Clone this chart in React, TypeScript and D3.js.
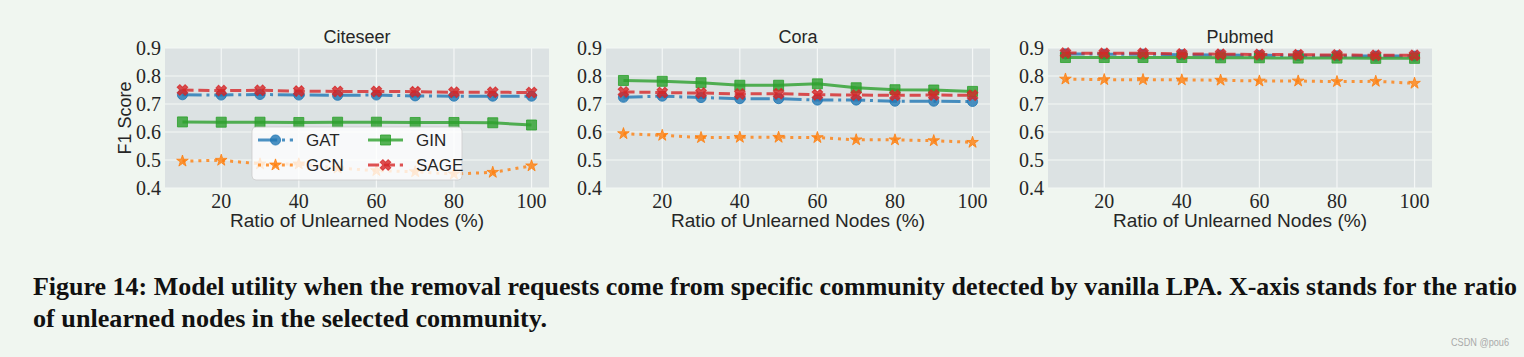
import React from 'react';
import * as d3 from 'd3';

const ratios = [10, 20, 30, 40, 50, 60, 70, 80, 90, 100];
const xTicks = [20, 40, 60, 80, 100];
const yTicks = [0.4, 0.5, 0.6, 0.7, 0.8, 0.9];
const datasetNames = ['Citeseer', 'Cora', 'Pubmed'];
const modelNames = ['GAT', 'GCN', 'GIN', 'SAGE'];

const citeseerGAT = [0.733, 0.732, 0.734, 0.732, 0.731, 0.732, 0.729, 0.728, 0.728, 0.728];
const citeseerGCN = [0.496, 0.499, 0.486, 0.486, 0.471, 0.462, 0.458, 0.450, 0.456, 0.479];
const citeseerGIN = [0.636, 0.635, 0.635, 0.634, 0.635, 0.635, 0.634, 0.634, 0.633, 0.625];
const citeseerSAGE = [0.750, 0.748, 0.749, 0.746, 0.745, 0.745, 0.744, 0.742, 0.742, 0.741];

const coraGAT = [0.724, 0.728, 0.723, 0.719, 0.719, 0.714, 0.714, 0.710, 0.710, 0.709];
const coraGCN = [0.594, 0.588, 0.580, 0.581, 0.581, 0.580, 0.572, 0.572, 0.569, 0.563];
const coraGIN = [0.784, 0.781, 0.776, 0.767, 0.767, 0.772, 0.758, 0.751, 0.750, 0.745];
const coraSAGE = [0.743, 0.741, 0.739, 0.736, 0.737, 0.733, 0.732, 0.731, 0.732, 0.731];

const pubmedGAT = [0.879, 0.878, 0.878, 0.876, 0.875, 0.874, 0.873, 0.872, 0.871, 0.871];
const pubmedGCN = [0.789, 0.787, 0.787, 0.786, 0.785, 0.782, 0.782, 0.780, 0.781, 0.774];
const pubmedGIN = [0.866, 0.866, 0.866, 0.866, 0.865, 0.865, 0.864, 0.864, 0.863, 0.863];
const pubmedSAGE = [0.882, 0.881, 0.881, 0.879, 0.878, 0.877, 0.876, 0.875, 0.874, 0.874];

const captionLine1 =
  'Figure 14: Model utility when the removal requests come from specific community detected by vanilla LPA. X-axis stands for the ratio';
const captionLine2 = 'of unlearned nodes in the selected community.';
const watermark = 'CSDN @pou6';

const seriesByDataset = [
  [citeseerGAT, citeseerGCN, citeseerGIN, citeseerSAGE],
  [coraGAT, coraGCN, coraGIN, coraSAGE],
  [pubmedGAT, pubmedGCN, pubmedGIN, pubmedSAGE],
];

const styles = [
  { color: '#1f77b4', dash: '19.2,4.8,3,4.8', marker: 'circle' },
  { color: '#ff7f0e', dash: '3,4.95', marker: 'star' },
  { color: '#2ca02c', dash: null, marker: 'square' },
  { color: '#d62728', dash: '11.1,4.8', marker: 'x' },
];

const SANS = "'Liberation Sans', Arial, sans-serif";
const SERIF = "'Liberation Serif', 'Times New Roman', serif";

function markerPath(kind: string): string {
  if (kind === 'circle') return d3.symbol(d3.symbolCircle, 80)() as string;
  if (kind === 'square') return d3.symbol(d3.symbolSquare, 100)() as string;
  if (kind === 'star') return d3.symbol(d3.symbolStar, 42)() as string;
  return d3.symbol(d3.symbolCross, 70)() as string;
}

function Marker({ kind, x, y, color }: { kind: string; x: number; y: number; color: string }) {
  const rot = kind === 'x' ? ' rotate(45)' : '';
  return (
    <path
      d={markerPath(kind)}
      transform={`translate(${x},${y})${rot}`}
      fill={color}
      fillOpacity={0.8}
      stroke={color}
      strokeOpacity={0.8}
      strokeWidth={1}
    />
  );
}

const panelLefts = [165, 606, 1048];
const panelWidth = 384;
const plotTop = 48;
const plotBottom = 188;

function Panel({ idx }: { idx: number }) {
  const left = panelLefts[idx];
  const right = left + panelWidth;
  const x = d3.scaleLinear().domain([5.5, 104.5]).range([left, right]);
  const y = d3.scaleLinear().domain([0.4, 0.9]).range([plotBottom, plotTop]);
  const line = d3
    .line<number>()
    .x((_, i) => x(ratios[i]))
    .y((d) => y(d));
  const series = seriesByDataset[idx];
  const cx = (left + right) / 2;
  return (
    <g>
      <rect x={left} y={plotTop} width={panelWidth} height={plotBottom - plotTop} fill="#dce2e3" />
      {xTicks.map((t) => (
        <line key={'gx' + t} x1={x(t)} x2={x(t)} y1={plotTop} y2={plotBottom} stroke="#f4f7f6" strokeWidth={1.2} />
      ))}
      {yTicks.map((t) => (
        <line key={'gy' + t} x1={left} x2={right} y1={y(t)} y2={y(t)} stroke="#f4f7f6" strokeWidth={1.2} />
      ))}
      {series.map((vals, si) => (
        <g key={'s' + si}>
          <path
            d={line(vals) as string}
            fill="none"
            stroke={styles[si].color}
            strokeOpacity={0.8}
            strokeWidth={3}
            strokeDasharray={styles[si].dash ?? undefined}
          />
          {vals.map((v, i) => (
            <Marker key={i} kind={styles[si].marker} x={x(ratios[i])} y={y(v)} color={styles[si].color} />
          ))}
        </g>
      ))}
      {yTicks.map((t) => (
        <text
          key={'ty' + t}
          x={left - 4}
          y={y(t)}
          dy="0.35em"
          textAnchor="end"
          fontFamily={SERIF}
          fontSize={20}
          fill="#262626"
        >
          {t.toFixed(1)}
        </text>
      ))}
      {xTicks.map((t) => (
        <text
          key={'tx' + t}
          x={x(t)}
          y={plotBottom + 20}
          textAnchor="middle"
          fontFamily={SERIF}
          fontSize={20}
          fill="#262626"
        >
          {t}
        </text>
      ))}
      <text x={cx} y={43} textAnchor="middle" fontFamily={SANS} fontSize={18} fill="#262626">
        {datasetNames[idx]}
      </text>
      <text
        x={cx}
        y={227}
        textAnchor="middle"
        fontFamily={SANS}
        fontSize={18.5}
        fill="#262626"
        textLength={254}
        lengthAdjust="spacingAndGlyphs"
      >
        Ratio of Unlearned Nodes (%)
      </text>
      {idx === 0 && (
        <g>
          <text
            transform={`translate(131,${(plotTop + plotBottom) / 2}) rotate(-90)`}
            textAnchor="middle"
            fontFamily={SANS}
            fontSize={18}
            fill="#262626"
          >
            F1 Score
          </text>
          <Legend left={left} />
        </g>
      )}
    </g>
  );
}

function Legend({ left }: { left: number }) {
  const bx = left + 87;
  const by = 127;
  const cols = [0, 110];
  const rows = [140, 165];
  return (
    <g>
      <rect x={bx} y={by} width={210} height={53} rx={4} fill="#ffffff" fillOpacity={0.8} stroke="#cccccc" strokeOpacity={0.8} />
      {modelNames.map((name, i) => {
        const col = Math.floor(i / 2);
        const row = i % 2;
        const x0 = bx + 6 + cols[col];
        const yy = rows[row];
        const s = styles[i];
        return (
          <g key={name}>
            <line
              x1={x0}
              x2={x0 + 35}
              y1={yy}
              y2={yy}
              stroke={s.color}
              strokeOpacity={0.8}
              strokeWidth={3}
              strokeDasharray={s.dash ?? undefined}
            />
            <Marker kind={s.marker} x={x0 + 17.5} y={yy} color={s.color} />
            <text x={x0 + 48} y={yy} dy="0.35em" fontFamily={SANS} fontSize={17} fill="#262626">
              {name}
            </text>
          </g>
        );
      })}
    </g>
  );
}

export default function App() {
  return (
    <svg
      width={1524}
      height={357}
      viewBox="0 0 1524 357"
      style={{ position: 'absolute', left: 0, top: 0, display: 'block' }}
    >
      <rect x={0} y={0} width={1524} height={357} fill="#f0f6f0" />
      {[0, 1, 2].map((i) => (
        <Panel key={i} idx={i} />
      ))}
      <text
        x={33}
        y={295}
        fontFamily={SERIF}
        fontWeight="bold"
        fontSize={25}
        fill="#111111"
        textLength={1484}
        lengthAdjust="spacingAndGlyphs"
      >
        {captionLine1}
      </text>
      <text
        x={33}
        y={327}
        fontFamily={SERIF}
        fontWeight="bold"
        fontSize={25}
        fill="#111111"
        textLength={514}
        lengthAdjust="spacingAndGlyphs"
      >
        {captionLine2}
      </text>
      <text x={1451} y={346} fontFamily={SANS} fontSize={10.5} fill="#aaaaaa" textLength={58} lengthAdjust="spacingAndGlyphs">
        {watermark}
      </text>
    </svg>
  );
}
